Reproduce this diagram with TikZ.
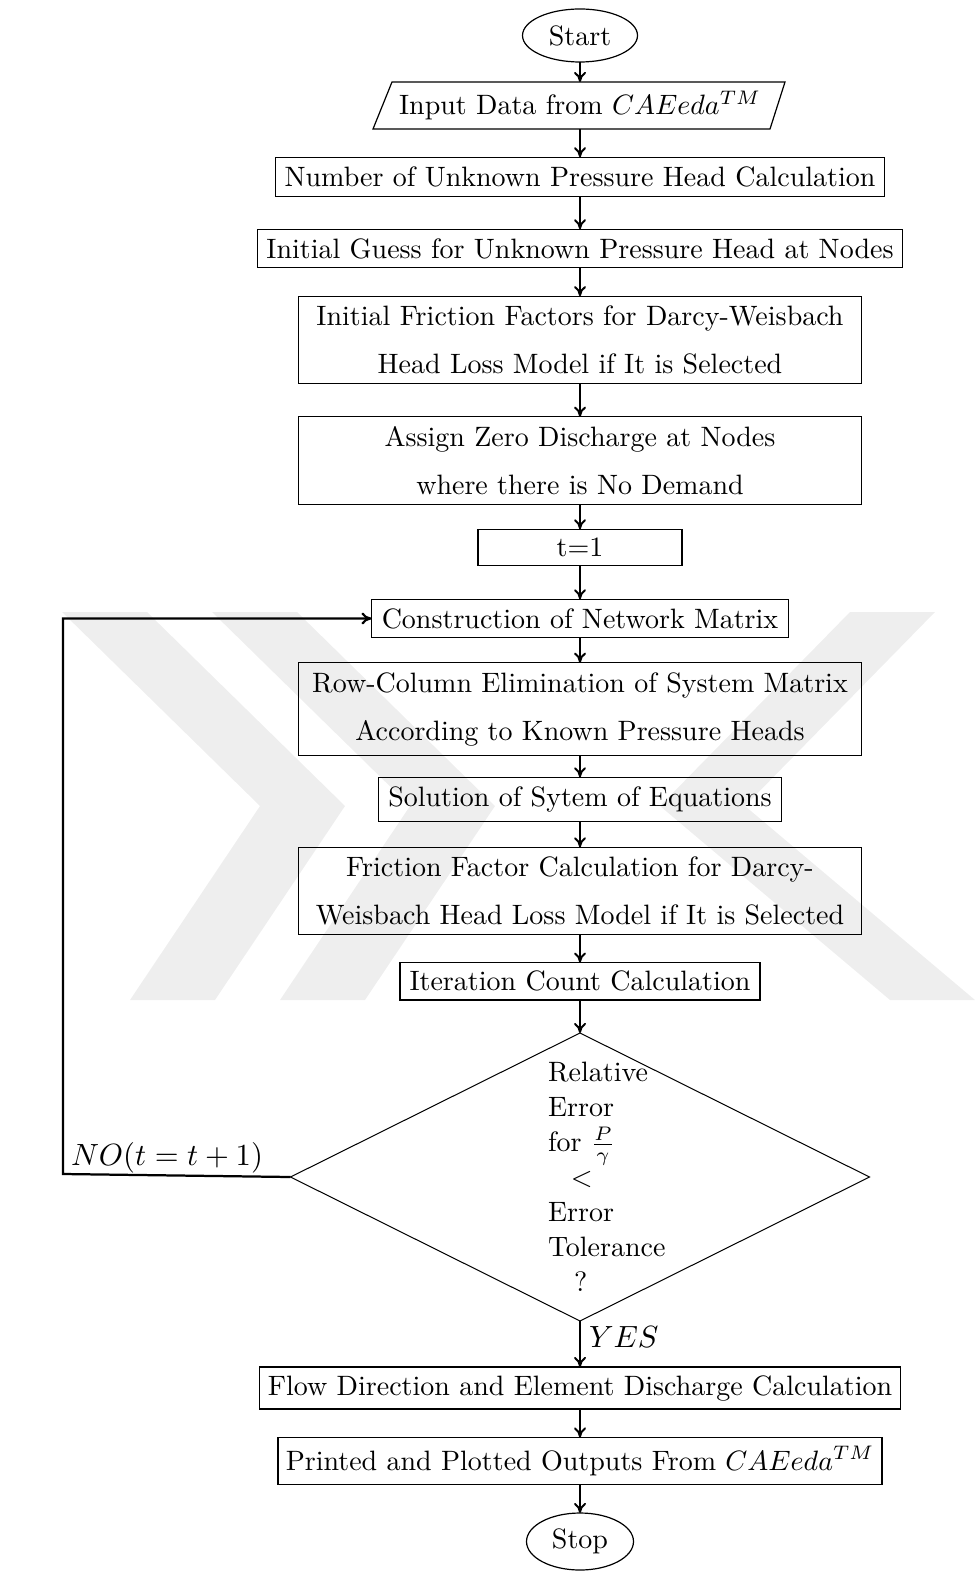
\documentclass[tikz,border=0pt]{standalone}
\usetikzlibrary{shapes.geometric,calc,arrows.meta}
\def\pxu{0.357pt}
\definecolor{wmark}{RGB}{238,238,238}
\tikzset{
  every node/.style={inner sep=0pt, outer sep=0pt, font=\fontsize{10}{17.1}\selectfont},
  procbox/.style 2 args={draw, line width=0.43pt, rectangle, align=center, minimum width={#1*\pxu}, minimum height={#2*\pxu}},
  termbox/.style 2 args={draw, line width=0.43pt, ellipse, minimum width={#1*\pxu}, minimum height={#2*\pxu}},
  ghostbox/.style 2 args={rectangle, minimum width={#1*\pxu}, minimum height={#2*\pxu}},
  outline/.style={draw, line width=0.43pt},
  flowarrow/.style={draw, line width=0.7pt, -{To[length=3.6pt,width=4.3pt]}},
  lbl/.style={font=\fontsize{11}{13}\selectfont},
  wmband/.style={fill=wmark, draw=none},
}
\begin{document}
\begin{tikzpicture}[x=\pxu, y=-\pxu]
\useasboundingbox (0,0) rectangle (979,1571);

% faint background watermark
\fill[wmband] (62,612) -- (147,612) -- (345,806) -- (215,1000) -- (130,1000) -- (260,806) -- cycle;
\fill[wmband] (212,612) -- (297,612) -- (495,806) -- (365,1000) -- (280,1000) -- (410,806) -- cycle;
\fill[wmband] (850,612) -- (935,612) -- (745,806) -- (975,1000) -- (890,1000) -- (660,806) -- cycle;

\node[termbox={115}{53}] (start) at (580,35.5) {Start};
\node[ghostbox={395}{47}] (inp) at (580,105.5) {Input Data from $CAEeda^{TM}$};
\draw[outline] ($(inp.north west)+(9.5,0)$) -- ($(inp.north east)+(7.5,0)$) -- ($(inp.south east)+(-7.5,0)$) -- ($(inp.south west)+(-9.5,0)$) -- cycle;
\node[procbox={609}{39}] (num) at (580,176.8) {Number of Unknown Pressure Head Calculation};
\node[procbox={645}{38.4}] (guess) at (580,248.5) {Initial Guess for Unknown Pressure Head at Nodes};
\node[procbox={563}{87}] (fric0) at (580,339.7) {Initial Friction Factors for Darcy-Weisbach\\Head Loss Model if It is Selected};
\node[procbox={563}{87.6}] (assign) at (580,460.5) {Assign Zero Discharge at Nodes\\where there is No Demand};
\node[procbox={204}{36.4}] (t1) at (580,547.5) {t=1};
\node[procbox={417}{38.4}] (constr) at (580,618.5) {Construction of Network Matrix};
\node[procbox={563}{93}] (rowcol) at (580,709.2) {Row-Column Elimination of System Matrix\\According to Known Pressure Heads};
\node[procbox={403}{44.4}] (sol) at (580,799.5) {Solution of Sytem of Equations};
\node[procbox={563}{87}] (fric) at (580,890.8) {Friction Factor Calculation for Darcy-\\Weisbach Head Loss Model if It is Selected};
\node[procbox={360}{37.5}] (iter) at (580,981.3) {Iteration Count Calculation};
\node[ghostbox={579}{288}, text width={64*\pxu}, align=left, font=\fontsize{10}{12.5}\selectfont] (dec) at (580,1177)
  {\mbox{Relative}\\\mbox{Error}\\\mbox{for $\frac{P}{\gamma}$}\\\hspace*{8.2pt}$<$\\\mbox{Error}\\\mbox{Tolerance}\\\hspace*{9.3pt}?};
\draw[outline, line width=0.36pt] (dec.north) -- (dec.east) -- (dec.south) -- (dec.west) -- cycle;
\node[procbox={641}{42}] (flow) at (580,1388) {Flow Direction and Element Discharge Calculation};
\node[procbox={604}{47}] (print) at (580,1461) {Printed and Plotted Outputs From $CAEeda^{TM}$};
\node[termbox={107}{57}] (stop) at (580,1541.5) {Stop};

\draw[flowarrow] (start) -- (inp);
\draw[flowarrow] (inp) -- (num);
\draw[flowarrow] (num) -- (guess);
\draw[flowarrow] (guess) -- (fric0);
\draw[flowarrow] (fric0) -- (assign);
\draw[flowarrow] (assign) -- (t1);
\draw[flowarrow] (t1) -- (constr);
\draw[flowarrow] (constr) -- (rowcol);
\draw[flowarrow] (rowcol) -- (sol);
\draw[flowarrow] (sol) -- (fric);
\draw[flowarrow] (fric) -- (iter);
\draw[flowarrow] (iter) -- (dec.north);
\draw[flowarrow] (dec.south) -- (flow);
\draw[flowarrow] (flow) -- (print);
\draw[flowarrow] (print) -- (stop);

\coordinate (loopc) at (63,1174);
\draw[flowarrow, line width=0.8pt] (dec.west) -- (loopc) |- (constr.west);

\node[lbl, anchor=base west] (nolbl) at (71,1165) {$NO(t=t+1)$};
\node[lbl, anchor=base west] (yeslbl) at (589,1347) {$YES$};
\end{tikzpicture}
\end{document}
